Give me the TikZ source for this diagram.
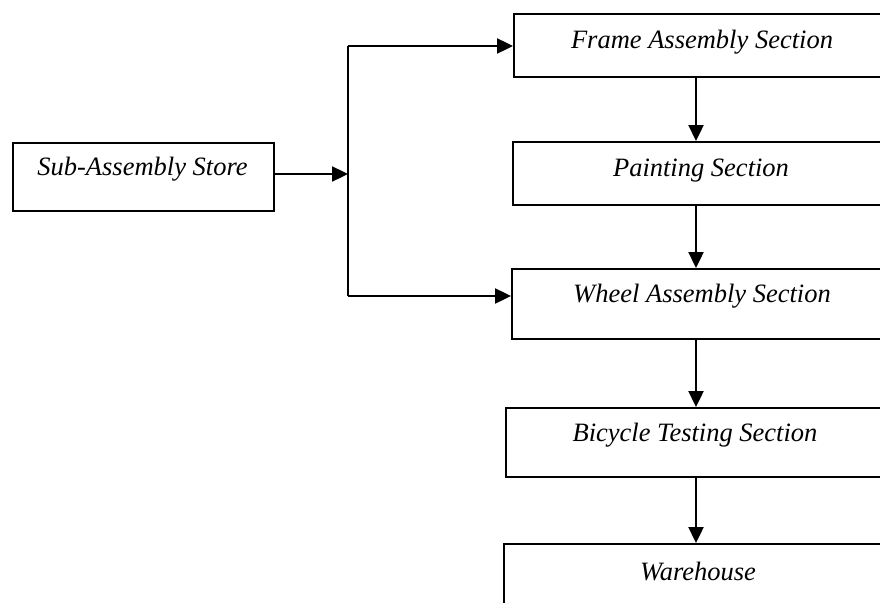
\documentclass[tikz,border=0pt]{standalone}
\usepackage{fontspec}
\setmainfont{Liberation Serif}
\usetikzlibrary{arrows.meta}
\begin{document}
\begin{tikzpicture}[x=1pt,y=-1pt,
  boxst/.style={draw=black,line width=2.2pt,rectangle,inner sep=0pt},
  lbl/.style={inner sep=0pt,font=\fontsize{26.5}{30}\selectfont\itshape},
  conn/.style={line width=2.4pt},
  arr/.style={line width=2.4pt,-{Triangle[length=16pt,width=15pt]}}]
\useasboundingbox (0,0) rectangle (880,602);
\clip (0,0) rectangle (880,602);
% boxes
\node[boxst,minimum width=261pt,minimum height=68pt,anchor=north west] (sub) at (12,142) {};
\node[boxst,minimum width=378pt,minimum height=63pt,anchor=north west] (frame) at (513,13) {};
\node[boxst,minimum width=378pt,minimum height=63pt,anchor=north west] (paint) at (512,141) {};
\node[boxst,minimum width=380pt,minimum height=70pt,anchor=north west] (wheel) at (511,268) {};
\node[boxst,minimum width=380pt,minimum height=69pt,anchor=north west] (bike) at (505,407) {};
\node[boxst,minimum width=390pt,minimum height=80pt,anchor=north west] (ware) at (503,543) {};
% labels
\node[lbl] (tsub) at (142.5,169) {Sub-Assembly Store};
\node[lbl] (tframe) at (702,42) {Frame Assembly Section};
\node[lbl] (tpaint) at (701,171) {Painting Section};
\node[lbl] (twheel) at (702,296) {Wheel Assembly Section};
\node[lbl] (tbike) at (695,435) {Bicycle Testing Section};
\node[lbl] (tware) at (698,571) {Warehouse};
% connectors
\coordinate (col) at (696,0);
\coordinate (bt) at (348,46);
\coordinate (bb) at (348,296);
\draw[conn] (bt) -- (bb);
\draw[arr] (bt) -- (frame.west |- bt);
\draw[arr] (bb) -- (wheel.west |- bb);
\draw[arr] (sub.east |- 0,174) -- (bt |- 0,174);
\draw[arr] (frame.south -| col) -- (paint.north -| col);
\draw[arr] (paint.south -| col) -- (wheel.north -| col);
\draw[arr] (wheel.south -| col) -- (bike.north -| col);
\draw[arr] (bike.south -| col) -- (ware.north -| col);
\end{tikzpicture}
\end{document}
